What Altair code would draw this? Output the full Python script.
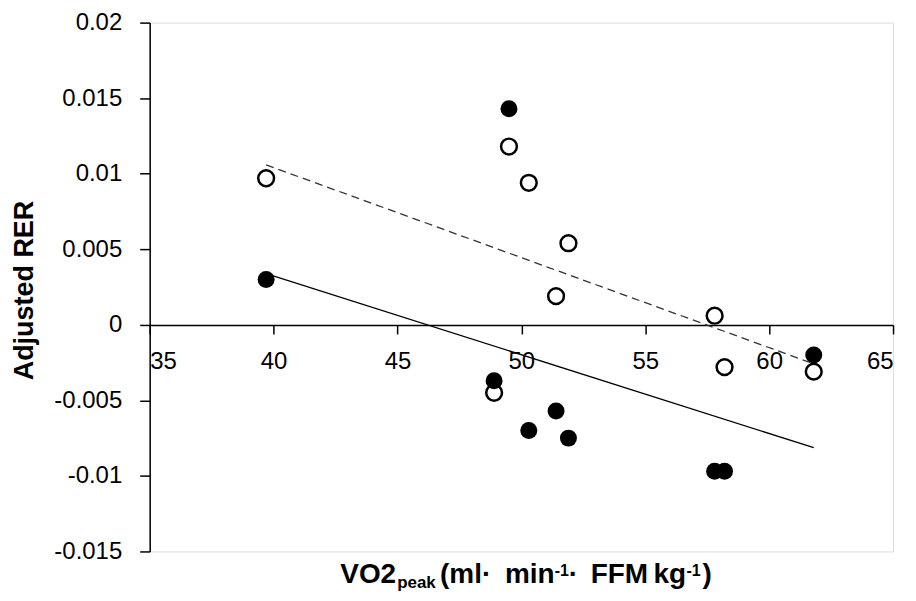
import altair as alt
import pandas as pd

# Data
vo2_peak = [39.7, 49.5, 50.3, 51.9, 51.4, 48.9, 57.8, 58.2, 61.8]
rer_filled = [0.0030, 0.0143, -0.0070, -0.0075, -0.0057, -0.0037, -0.0097, -0.0097, -0.0020]
rer_open = [0.0097, 0.0118, 0.0094, 0.0054, 0.0019, -0.0045, 0.0006, -0.0028, -0.0031]

x_ticks = [35, 40, 45, 50, 55, 60, 65]
y_ticks = [-0.015, -0.01, -0.005, 0, 0.005, 0.01, 0.015, 0.02]

y_title = "Adjusted RER"
# x-axis title pieces (text) - rich text built from several text marks
x_title_texts = ["VO2", "peak", "(ml·", "min", "-1", "·", "FFM", "kg", "-1", ")"]

# layout of the x title pieces: (left x in plot px, baseline shift, font size)
x_title_layout = [
    (191, 0, 28), (248, 5, 17), (291, 0, 28), (356, 0, 28), (406, -7, 16),
    (420, 0, 28), (442, 0, 28), (505, 0, 28), (538, -7, 16), (554, 0, 28),
]
TITLE_BASE = 562

df_filled = pd.DataFrame({"vo2": vo2_peak, "rer": rer_filled})
df_open = pd.DataFrame({"vo2": vo2_peak, "rer": rer_open})

FONT = "Liberation Sans"
W, H = 745, 530

x_enc = alt.X(
    "vo2:Q",
    scale=alt.Scale(domain=[35, 65], nice=False, zero=False),
    axis=alt.Axis(
        values=x_ticks, offset=-227, tickSize=9, labelPadding=16,
        labelFontSize=24, labelFont=FONT, labelColor="black",
        domainColor="black", tickColor="black", domainWidth=1.5, tickWidth=1.5,
        grid=False, title=None,
    ),
)
y_enc = alt.Y(
    "rer:Q",
    scale=alt.Scale(domain=[-0.015, 0.02], nice=False, zero=False),
    axis=alt.Axis(
        values=y_ticks, labelExpr="'' + datum.value", tickSize=10, labelPadding=18,
        labelFontSize=24, labelFont=FONT, labelColor="black",
        domainColor="black", tickColor="black", domainWidth=1.5, tickWidth=1.5,
        grid=False, title=y_title, titleFontSize=27, titleFont=FONT,
        titleFontWeight="bold", titleColor="black", titleX=-117, titleY=268,
        titleAngle=270, titleBaseline="alphabetic", titleAlign="center",
    ),
)

line_filled = alt.Chart(df_filled).transform_regression("vo2", "rer").mark_line(
    color="black", strokeWidth=1.3
).encode(x=x_enc, y=y_enc)

line_open = alt.Chart(df_open).transform_regression("vo2", "rer").mark_line(
    color="#333333", strokeWidth=1.3, strokeDash=[8, 5]
).encode(x=x_enc, y=y_enc)

pts_open = alt.Chart(df_open).mark_point(
    shape="circle", filled=True, fill="white", stroke="black",
    strokeWidth=2.5, size=250, opacity=1
).encode(x=x_enc, y=y_enc)

pts_filled = alt.Chart(df_filled).mark_circle(
    color="black", size=290, opacity=1
).encode(x=x_enc, y=y_enc)

title_marks = []
for txt, (px, dy, fs) in zip(x_title_texts, x_title_layout):
    title_marks.append(
        alt.Chart(pd.DataFrame({"t": [txt]})).mark_text(
            align="left", baseline="alphabetic", font=FONT, fontSize=fs,
            fontWeight="bold", color="black"
        ).encode(x=alt.value(px), y=alt.value(TITLE_BASE + dy), text="t:N")
    )

chart = alt.layer(line_filled, line_open, pts_open, pts_filled, *title_marks).properties(
    width=W, height=H,
    autosize=alt.AutoSizeParams(type="none"),
    padding={"left": 142, "top": 14, "right": 15, "bottom": 41},
).configure_view(stroke=None).configure(background="white")

chart.save("out.html", embed_options={"renderer": "svg", "actions": False})
